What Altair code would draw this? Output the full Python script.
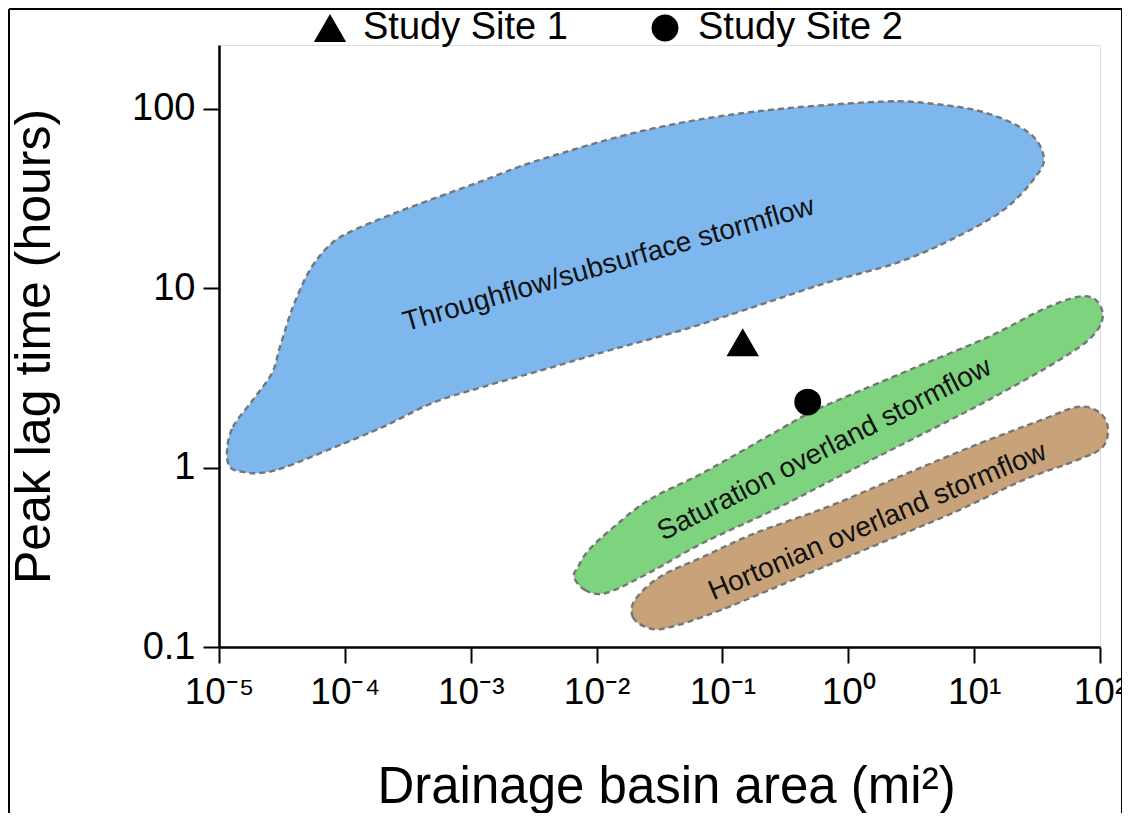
import json
import altair as alt
import pandas as pd

# ---------------- data ----------------
X_TICKS = [1e-5, 1e-4, 1e-3, 1e-2, 1e-1, 1e0, 1e1, 1e2]
X_TICK_LABELS = ["10⁻⁵", "10⁻⁴", "10⁻³", "10⁻²", "10⁻¹", "10⁰", "10¹", "10²"]
Y_TICKS = [0.1, 1, 10, 100]

SITES = ["Study Site 1", "Study Site 2"]
SITE_AREA = [0.145, 0.476]        # mi^2
SITE_LAG = [5.0, 2.32]            # hours
SITE_SHAPES = ["triangle-up", "circle"]
SITE_SIZES = [1050, 720]

# Throughflow / subsurface stormflow envelope (outline, clockwise)
THROUGH_AREA = [1.16e-5, 1.29e-5, 1.86e-5, 2.64e-5, 3.05e-5, 3.87e-5, 5.28e-5, 7.62e-5,
                1.10e-4, 2.01e-4, 3.74e-4, 1.18e-3, 3.55e-3, 0.0251, 0.178, 1.746,
                4.69, 12.36, 27.2, 35.7, 30.8, 17.2, 6.52, 2.43, 0.663, 0.178,
                0.0485, 0.0130, 4.26e-3, 1.25e-3, 5.01e-4, 2.01e-4, 8.04e-5, 3.22e-5,
                2.12e-5, 1.55e-5, 1.22e-5]
THROUGH_LAG = [1.255, 1.687, 2.386, 3.37, 4.71, 7.87, 12.66, 17.46,
               20.6, 24.7, 29.2, 39.2, 52.0, 76.4, 96.4, 109.5,
               106.7, 95.1, 73.6, 54.1, 41.8, 27.4, 18.6, 13.86, 10.7, 7.87,
               5.86, 4.53, 3.60, 2.82, 2.30, 1.687, 1.288, 0.996,
               0.934, 0.946, 1.009]

# Saturation overland stormflow envelope
SAT_AREA = [6.61e-3, 8.07e-3, 0.01186, 0.0261, 0.0698, 0.256, 0.955, 3.50, 13.06,
            47.9, 85.9, 105.1, 92.5, 66.5, 34.4, 13.06, 3.50, 0.955, 0.494, 0.256,
            0.0698, 0.0261, 0.01372, 8.69e-3, 7.11e-3]
SAT_LAG = [0.2458, 0.208, 0.200, 0.259, 0.380, 0.581, 0.934, 1.483, 2.386,
           3.99, 5.36, 6.92, 8.61, 8.95, 7.57, 5.36, 3.64, 2.48, 2.02, 1.562,
           0.934, 0.661, 0.467, 0.3475, 0.279]

# Hortonian overland stormflow envelope
HORT_AREA = [0.02015, 0.01943, 0.02466, 0.03618, 0.0971, 0.494, 1.813, 6.76, 24.8,
             66.5, 105.1, 115.2, 97.7, 66.5, 34.4, 9.40, 2.52, 0.687, 0.184,
             0.0698, 0.03184]
HORT_LAG = [0.1828, 0.147, 0.1293, 0.1276, 0.1608, 0.259, 0.380, 0.559, 0.854,
            1.104, 1.304, 1.687, 2.045, 2.181, 1.845, 1.304, 0.887, 0.604, 0.4325,
            0.3177, 0.2458]

REGION_NAMES = ["Throughflow/subsurface stormflow",
                "Saturation overland stormflow",
                "Hortonian overland stormflow"]
REGION_COLORS = ["#7DB7EE", "#7ED47E", "#C8A37A"]
LABEL_AREA = [0.0125, 0.65, 1.71]
LABEL_LAG = [13.5, 1.256, 0.498]
LABEL_ANGLE = [344, 333, 337]

# ---------------- chart ----------------
FONT = "Liberation Sans, Arial, Helvetica, sans-serif"
W, H = 881, 602

xscale = alt.Scale(type="log", domain=[1e-5, 100], nice=False)
yscale = alt.Scale(type="log", domain=[0.1, 227], nice=False)

x_label_expr = json.dumps(X_TICK_LABELS) + "[round(log(datum.value)/LN10)+5]"

x_axis = alt.Axis(values=X_TICKS, labelExpr=x_label_expr, title="Drainage basin area (mi²)",
                  grid=False, tickSize=16, tickWidth=2, tickColor="black",
                  domainColor="black", domainWidth=2.5,
                  labelFontSize=37, labelFont=FONT, labelColor="black", labelPadding=11,
                  labelFlush=False, labelOverlap=False,
                  titleFontSize=51, titleFont=FONT, titleFontWeight="normal", titleColor="black",
                  titleBaseline="alphabetic", titleAlign="center", titleX=447, titleY=155)
y_axis = alt.Axis(values=Y_TICKS, format="~g", title="Peak lag time (hours)",
                  grid=False, tickSize=16, tickWidth=2, tickColor="black",
                  domainColor="black", domainWidth=2.5,
                  labelFontSize=38, labelFont=FONT, labelColor="black", labelPadding=8,
                  labelFlush=False, labelOverlap=False,
                  titleFontSize=50, titleFont=FONT, titleFontWeight="normal", titleColor="black",
                  titleAngle=270, titleBaseline="middle", titleAlign="center",
                  titleX=-185, titleY=301)

X_ENC = alt.X("area:Q", scale=xscale, axis=x_axis)
Y_ENC = alt.Y("lag:Q", scale=yscale, axis=y_axis)


def region(areas, lags, color):
    df = pd.DataFrame({"area": areas, "lag": lags, "i": list(range(len(areas)))})
    return alt.Chart(df).mark_line(
        interpolate="cardinal-closed", fill=color, fillOpacity=1,
        stroke="#767676", strokeWidth=2.4, strokeDash=[6, 4]
    ).encode(x=X_ENC, y=Y_ENC, order=alt.Order("i:Q"))


blue = region(THROUGH_AREA, THROUGH_LAG, REGION_COLORS[0])
green = region(SAT_AREA, SAT_LAG, REGION_COLORS[1])
brown = region(HORT_AREA, HORT_LAG, REGION_COLORS[2])

labels_df = pd.DataFrame({"name": REGION_NAMES, "area": LABEL_AREA,
                          "lag": LABEL_LAG, "angle": LABEL_ANGLE})
labels = alt.Chart(labels_df).mark_text(
    font=FONT, fontSize=28, color="#111111", align="center", baseline="middle"
).encode(
    x=X_ENC, y=Y_ENC,
    text="name:N",
    angle=alt.Angle("angle:Q", scale=None),
)

sites_df = pd.DataFrame({"site": SITES, "area": SITE_AREA, "lag": SITE_LAG})
legend = alt.Legend(orient="none", legendX=92, legendY=-36, direction="horizontal",
                    title=None, labelFontSize=38, labelFont=FONT, labelColor="black",
                    labelLimit=500, labelOffset=14, columnPadding=78, padding=0,
                    symbolFillColor="black", symbolStrokeWidth=0, symbolOpacity=1)
points = alt.Chart(sites_df).mark_point(filled=True, opacity=1, color="black").encode(
    x=X_ENC, y=Y_ENC,
    shape=alt.Shape("site:N", scale=alt.Scale(domain=SITES, range=SITE_SHAPES), legend=legend),
    size=alt.Size("site:N", scale=alt.Scale(domain=SITES, range=SITE_SIZES)),
)

frame_df = pd.DataFrame({"k": [0]})
frame_left = alt.Chart(frame_df).mark_rule(color="black", strokeWidth=2).encode(
    x=alt.value(-210), y=alt.value(-36), y2=alt.value(770))
frame_right = alt.Chart(frame_df).mark_rule(color="black", strokeWidth=2).encode(
    x=alt.value(903), y=alt.value(-36), y2=alt.value(770))
frame_top = alt.Chart(frame_df).mark_rule(color="black", strokeWidth=2).encode(
    x=alt.value(-210), x2=alt.value(903), y=alt.value(-36))

chart = alt.layer(
    blue, green, brown, labels, points, frame_left, frame_right, frame_top
).properties(
    width=W, height=H,
    autosize=alt.AutoSizeParams(type="none"),
    padding={"left": 211, "top": 37, "right": 22, "bottom": 166},
).configure_view(stroke="transparent").configure(background="white")

chart.save("out.html", embed_options={"renderer": "svg", "actions": False})
